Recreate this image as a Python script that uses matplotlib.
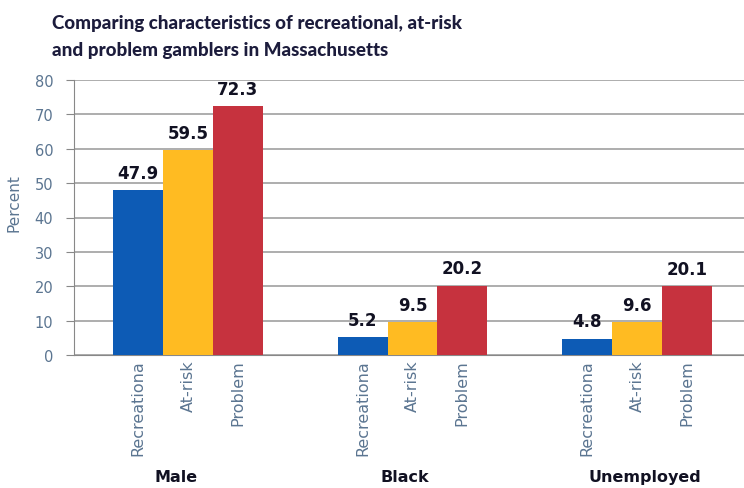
import matplotlib
matplotlib.use("Agg")
import matplotlib.pyplot as plt
import matplotlib.transforms as mtransforms
import numpy as np

groups = ["Male", "Black", "Unemployed"]
series = ["Recreationa", "At-risk", "Problem"]
recreational = [47.9, 5.2, 4.8]
at_risk = [59.5, 9.5, 9.6]
problem = [72.3, 20.2, 20.1]
yticks = [0, 10, 20, 30, 40, 50, 60, 70, 80]

colors = ["#0d5bb5", "#ffbb22", "#c6323e"]
tick_color = "#5b7591"
navy = "#1c1c3c"

fig = plt.figure(figsize=(7.44, 4.89), dpi=100)
ax = fig.add_axes([74 / 744, 133 / 489, 670 / 744, 275 / 489])

x = np.arange(len(groups))
w = 0.222
values = [recreational, at_risk, problem]
tick_pos, tick_lab = [], []
for i, (vals, col) in enumerate(zip(values, colors)):
    pos = x + (i - 1) * w
    bars = ax.bar(pos, vals, width=w, color=col, zorder=3)
    for b, v in zip(bars, vals):
        ax.annotate(f"{v}", (b.get_x() + b.get_width() / 2, v),
                    xytext=(0, 6), textcoords="offset points",
                    ha="center", va="bottom", fontsize=12,
                    fontweight="bold", color="#111122", family="DejaVu Sans")
    tick_pos.extend(pos)
    tick_lab.extend([series[i]] * len(groups))

ax.set_xticks(tick_pos)
ax.set_xticklabels(tick_lab, rotation=90, va="top", ha="center",
                   fontsize=11.5, color=tick_color, family="DejaVu Sans")
ax.tick_params(axis="x", length=0, pad=3)

ax.set_ylim(0, 80)
ax.set_xlim(-0.508, 2.477)
ax.set_yticks(yticks)
ax.set_yticklabels([str(t) for t in yticks], fontsize=10.5, color=tick_color,
                   family="DejaVu Sans")
ax.tick_params(axis="y", length=6, color="#888888", pad=9)
ax.yaxis.grid(True, color="#a0a0a0", linewidth=1.2, zorder=0)
ax.set_ylabel("Percent", fontsize=11, color=tick_color, family="DejaVu Sans")
ax.yaxis.set_label_coords(-0.079, 0.556)

for s in ["top", "right"]:
    ax.spines[s].set_visible(False)
ax.spines["left"].set_color("#888888")
ax.spines["bottom"].set_color("#888888")

trans = mtransforms.blended_transform_factory(ax.transData, fig.transFigure)
offsets = [-0.053, -0.036, 0.036]
for xi, g, off in zip(x, groups, offsets):
    ax.text(xi + off, 1 - 478 / 489, g, transform=trans, ha="center",
            va="center", fontsize=11.5, fontweight="bold", color="#111122",
            family="DejaVu Sans")

fig.text(52 / 744, 1 - 24 / 489,
         "Comparing characteristics of recreational, at-risk",
         fontsize=13.5, fontweight="black", color=navy, family="Lato",
         va="center", ha="left")
fig.text(52 / 744, 1 - 51 / 489,
         "and problem gamblers in Massachusetts",
         fontsize=13.5, fontweight="black", color=navy, family="Lato",
         va="center", ha="left")

fig.savefig("out.png", dpi=100)
